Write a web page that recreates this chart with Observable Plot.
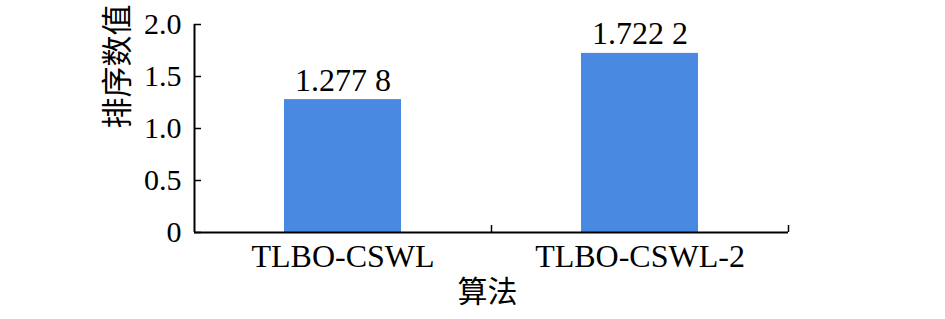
<!DOCTYPE html>
<html>
<head>
<meta charset="utf-8">
<script src="https://cdn.jsdelivr.net/npm/d3@7"></script>
<script src="https://cdn.jsdelivr.net/npm/@observablehq/plot@0.6"></script>
<style>
  body { margin: 0; background: #fff; }
  #chart svg { display: block; }
  #chart svg, #chart svg text { font-family: "Liberation Serif", "DejaVu Serif", "Noto Sans CJK SC", serif !important; }
</style>
</head>
<body>
<div id="chart"></div>
<script>
const categories = ["TLBO-CSWL", "TLBO-CSWL-2"];
const values = [1.2778, 1.7222];
const valueLabels = ["1.277 8", "1.722 2"];
const yTicks = [0, 0.5, 1.0, 1.5, 2.0];
const yTickLabels = ["0", "0.5", "1.0", "1.5", "2.0"];
const xTitle = "算法";
const yTitle = "排序数值";

const data = categories.map((c, i) => ({i, c, v: values[i], label: valueLabels[i]}));
const catCenters = categories.map((c, i) => i + 0.5);
const catBounds = categories.map((c, i) => i + 1);

const chart = Plot.plot({
  width: 945,
  height: 319,
  marginLeft: 194,
  marginRight: 157,
  marginTop: 24,
  marginBottom: 87,
  style: {fontSize: "30px", color: "black", background: "white"},
  x: {type: "linear", domain: [0, categories.length], axis: null},
  y: {domain: [0, 2], axis: null},
  marks: [
    Plot.rectY(data, {x1: d => d.i, x2: d => d.i + 1, y: "v", fill: "#4a89e1", insetLeft: 90, insetRight: 90}),
    Plot.text(data, {x: d => d.i + 0.5, y: "v", text: "label", dy: -9, lineAnchor: "bottom", fontSize: 32, fill: "black"}),
    Plot.axisY(yTicks, {tickSize: 7, dx: 7, fill: "none", stroke: "black", strokeWidth: 1.5, label: null}),
    Plot.axisY(yTicks, {tickSize: 0, tickPadding: 13, tickFormat: d => yTickLabels[yTicks.indexOf(d)], fontSize: 30, fill: "black", label: null}),
    Plot.axisX(catBounds, {tickSize: 7, dy: -7, fill: "none", stroke: "black", strokeWidth: 1.5, label: null}),
    Plot.axisX(catCenters, {tickSize: 0, tickPadding: 12, tickFormat: d => categories[Math.floor(d)], fontSize: 32, fill: "black", label: null}),
    Plot.ruleX([0], {stroke: "black", strokeWidth: 2}),
    Plot.ruleY([0], {stroke: "black", strokeWidth: 2}),
    Plot.text([xTitle], {text: d => d, frameAnchor: "bottom", dx: -4, dy: 60, lineAnchor: "middle", fontSize: 30, fill: "black"}),
    Plot.text([yTitle], {text: d => d, frameAnchor: "left", dx: -76, rotate: -90, lineAnchor: "middle", fontSize: 31, fill: "black"})
  ]
});
document.getElementById("chart").appendChild(chart);
</script>
</body>
</html>
